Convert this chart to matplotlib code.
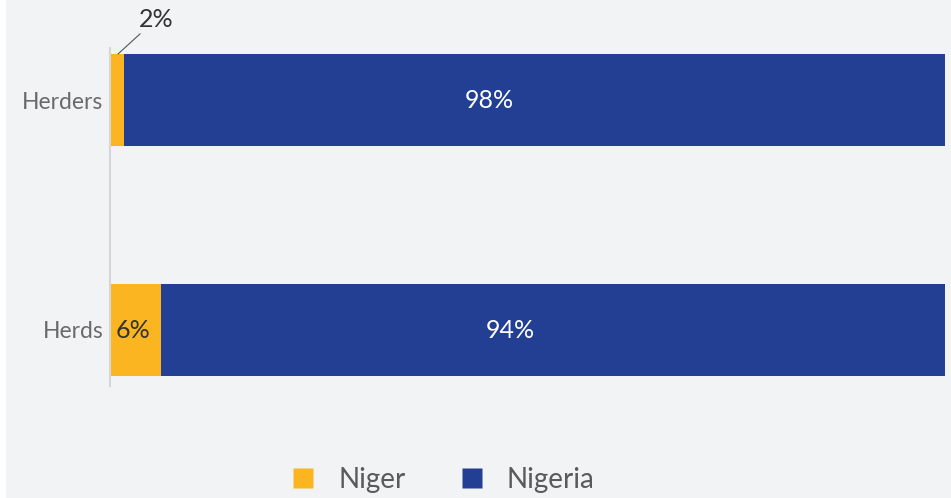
import matplotlib.pyplot as plt
from matplotlib.patches import Rectangle
from matplotlib.lines import Line2D

categories = ["Herds", "Herders"]
niger = [6, 1.5]
nigeria = [94, 98.5]

NIGER_COLOR = "#FBB520"
NIGERIA_COLOR = "#223F93"
BG = "#F2F3F5"
W, H = 951, 498

plt.rcParams["font.family"] = ["Lato", "DejaVu Sans"]

fig = plt.figure(figsize=(W / 100, H / 100), dpi=100, facecolor=BG)
fig.patches.append(Rectangle((0, 0), 6 / W, 1, transform=fig.transFigure,
                             facecolor="white", edgecolor="none", zorder=0))

ax = fig.add_axes([111 / W, 1 - 386 / H, 834 / W, 338 / H])
ax.set_facecolor(BG)

y = list(range(len(categories)))
ax.barh(y, niger, height=0.4, color=NIGER_COLOR, label="Niger")
ax.barh(y, nigeria, left=niger, height=0.4, color=NIGERIA_COLOR, label="Nigeria")

ax.set_xlim(0, 100)
ax.set_ylim(-56 / 230, 1 + 52 / 230)
ax.set_yticks(y)
ax.set_yticklabels(categories)
ax.tick_params(left=False, bottom=False, labelbottom=False, pad=1,
               labelsize=16.5, labelcolor="#6A6A6A")
for s in ["top", "right", "bottom"]:
    ax.spines[s].set_visible(False)
ax.spines["left"].set_color("#D6D6D6")
ax.spines["left"].set_linewidth(1.5)
ax.spines["left"].set_position(("data", -0.15))

label_pos = 0.445
for i in y:
    ax.text(niger[i] + nigeria[i] * label_pos, i, f"{nigeria[i]:.0f}%", color="white",
            ha="center", va="center", fontsize=18)
    if niger[i] >= 5:
        ax.text(niger[i] * label_pos, i, f"{niger[i]:.0f}%", color="#333333",
                ha="center", va="center", fontsize=18)
    else:
        ax.annotate(f"{niger[i]:.0f}%", xy=(0.84, i + 0.2),
                    xytext=(3.3, 1.30), textcoords="data",
                    ha="left", va="bottom", fontsize=18, color="#333333",
                    annotation_clip=False,
                    arrowprops=dict(arrowstyle="-", color="#555555", lw=0.8,
                                    shrinkA=0, shrinkB=0))

handles = [Line2D([], [], marker="s", linestyle="none", markersize=14,
                  markerfacecolor=c, markeredgecolor="none") for c in (NIGER_COLOR, NIGERIA_COLOR)]
fig.legend(handles, ["Niger", "Nigeria"], loc="center", bbox_to_anchor=(442 / W, 1 - 480 / H),
           ncol=2, frameon=False, fontsize=20, labelcolor="#5A5A5A",
           handletextpad=0.75, columnspacing=1.9, handlelength=1.0)

fig.savefig("out.png", dpi=100, facecolor=BG)
